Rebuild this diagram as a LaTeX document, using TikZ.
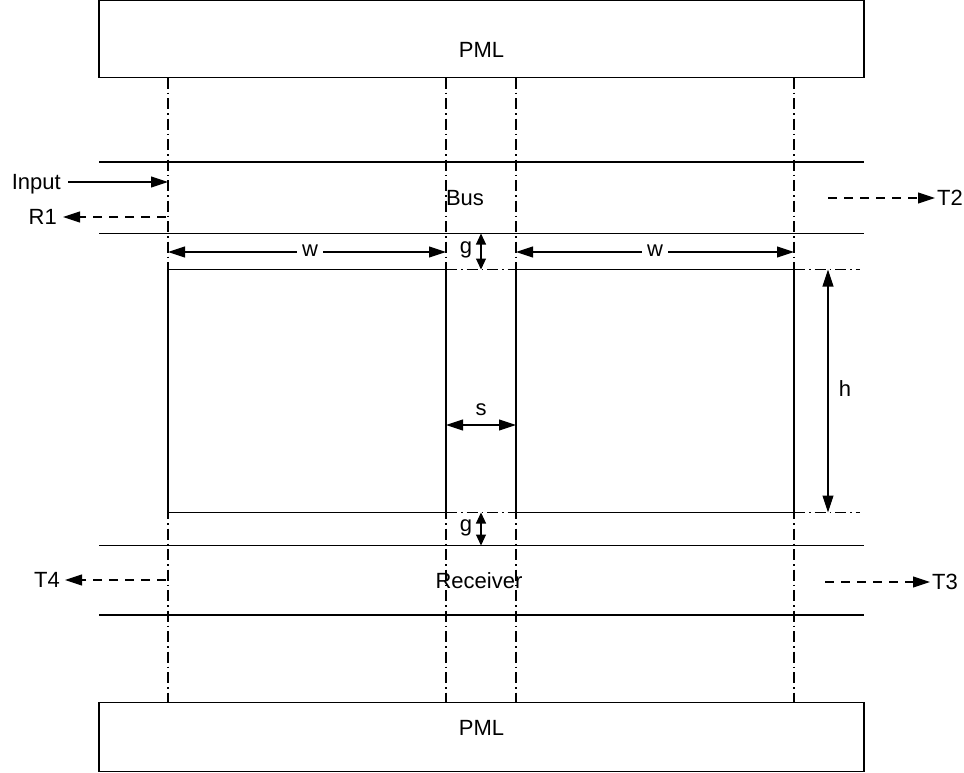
\documentclass[tikz,border=0pt]{standalone}
\usepackage{fontspec}
\setmainfont{Liberation Sans}
\usetikzlibrary{arrows.meta}
\begin{document}
\begin{tikzpicture}[x=1pt,y=-1pt,
  every node/.style={font=\fontsize{22}{26}\selectfont},
  lbl/.style={inner sep=0pt,text height=15.8pt,text depth=0pt},
  wlbl/.style={lbl,fill=white,inner xsep=5pt,inner ysep=2pt},
  solid line/.style={line width=1.1pt,black},
  dashdot/.style={line width=1.1pt,black,dash pattern=on 11pt off 4pt on 1.5pt off 4pt},
  bigtip/.style={-{Triangle[length=17pt,width=11pt]}},
  dimarrow/.style={solid line,{Triangle[length=17pt,width=11pt]}-{Triangle[length=17pt,width=11pt]}},
  gaparrow/.style={solid line,{Triangle[length=11pt,width=10pt]}-{Triangle[length=11pt,width=10pt]}},
  dasharrow/.style={line width=1.1pt,black,dash pattern=on 9pt off 7pt,bigtip}
]
\useasboundingbox (0,0) rectangle (964,772);
\clip (0,0) rectangle (964,772);
\fill[white] (0,0) rectangle (964,772);

% PML boxes
\draw[solid line] (99,0.6) rectangle (864,77.7);
\node[lbl] (pmltop) at (481.5,50) {PML};
\draw[solid line] (99,702.7) rectangle (864,771.4);
\node[lbl] (pmlbot) at (481.5,728) {PML};

% vertical dash-dot guides
\foreach \x/\n in {168/a,446/b,516/c,794/d}{
  \coordinate (\n top) at (\x,77.7);
  \coordinate (\n bot) at (\x,702.7);
  \draw[dashdot] (\n top) -- (\n bot);
}

% bus and receiver lines
\coordinate (bus1l) at (99,162); \coordinate (bus1r) at (864,162);
\coordinate (bus2l) at (99,233.5); \coordinate (bus2r) at (864,233.5);
\coordinate (rec1l) at (99,545.5); \coordinate (rec1r) at (864,545.5);
\coordinate (rec2l) at (99,615); \coordinate (rec2r) at (864,615);
\draw[solid line] (bus1l) -- (bus1r);
\draw[solid line] (bus2l) -- (bus2r);
\draw[solid line] (rec1l) -- (rec1r);
\draw[solid line] (rec2l) -- (rec2r);

% squares
\draw[solid line] (168,269.5) rectangle (446,512.5);
\draw[solid line] (516,269.5) rectangle (794,512.5);

% horizontal dash-dot guides
\coordinate (gt1) at (446,269.5); \coordinate (gt2) at (516,269.5);
\coordinate (gt3) at (794,269.5); \coordinate (gt4) at (860,269.5);
\coordinate (gb1) at (446,512.5); \coordinate (gb2) at (516,512.5);
\coordinate (gb3) at (794,512.5); \coordinate (gb4) at (860,512.5);
\draw[dashdot] (gt1) -- (gt2);
\draw[dashdot] (gt3) -- (gt4);
\draw[dashdot] (gb1) -- (gb2);
\draw[dashdot] (gb3) -- (gb4);

% labels
\node[lbl] (bus) at (465,198) {Bus};
\node[lbl] (rec) at (479,581) {Receiver};

% Input and R1
\node[lbl,anchor=east] (inp) at (61,182) {Input};
\coordinate (inpstart) at (68,182);
\coordinate (inpend) at (168,182);
\draw[solid line,bigtip] (inpstart) -- (inpend);
\node[lbl,anchor=east] (r1) at (57,217) {R1};
\coordinate (r1start) at (166,217);
\coordinate (r1end) at (63,217);
\draw[dasharrow] (r1start) -- (r1end);

% T2
\node[lbl,anchor=west] (t2) at (937,198) {T2};
\coordinate (t2start) at (828,198);
\coordinate (t2end) at (935,198);
\draw[dasharrow] (t2start) -- (t2end);

% T4
\node[lbl,anchor=east] (t4) at (60,580) {T4};
\coordinate (t4start) at (166,580);
\coordinate (t4end) at (65,580);
\draw[dasharrow] (t4start) -- (t4end);

% T3
\node[lbl,anchor=west] (t3) at (932,582) {T3};
\coordinate (t3start) at (825,582);
\coordinate (t3end) at (930,582);
\draw[dasharrow] (t3start) -- (t3end);

% w dimensions
\coordinate (w1a) at (168,252); \coordinate (w1b) at (446,252);
\draw[dimarrow] (w1a) -- (w1b);
\node[wlbl] (w1) at (310,249) {w};
\coordinate (w2a) at (516,252); \coordinate (w2b) at (794,252);
\draw[dimarrow] (w2a) -- (w2b);
\node[wlbl] (w2) at (655,249) {w};

% g dimensions
\coordinate (g1a) at (481,233.5); \coordinate (g1b) at (481,269.5);
\draw[gaparrow] (g1a) -- (g1b);
\node[lbl] (g1) at (466,246) {g};
\coordinate (g2a) at (481,512.5); \coordinate (g2b) at (481,545.5);
\draw[gaparrow] (g2a) -- (g2b);
\node[lbl] (g2) at (466,524) {g};

% s dimension
\coordinate (sa) at (446,425); \coordinate (sb) at (516,425);
\draw[dimarrow] (sa) -- (sb);
\node[lbl] (s) at (481,408) {s};

% h dimension
\coordinate (ha) at (828,269.5); \coordinate (hb) at (828,512.5);
\draw[dimarrow] (ha) -- (hb);
\node[lbl] (h) at (845,389) {h};
\end{tikzpicture}
\end{document}
